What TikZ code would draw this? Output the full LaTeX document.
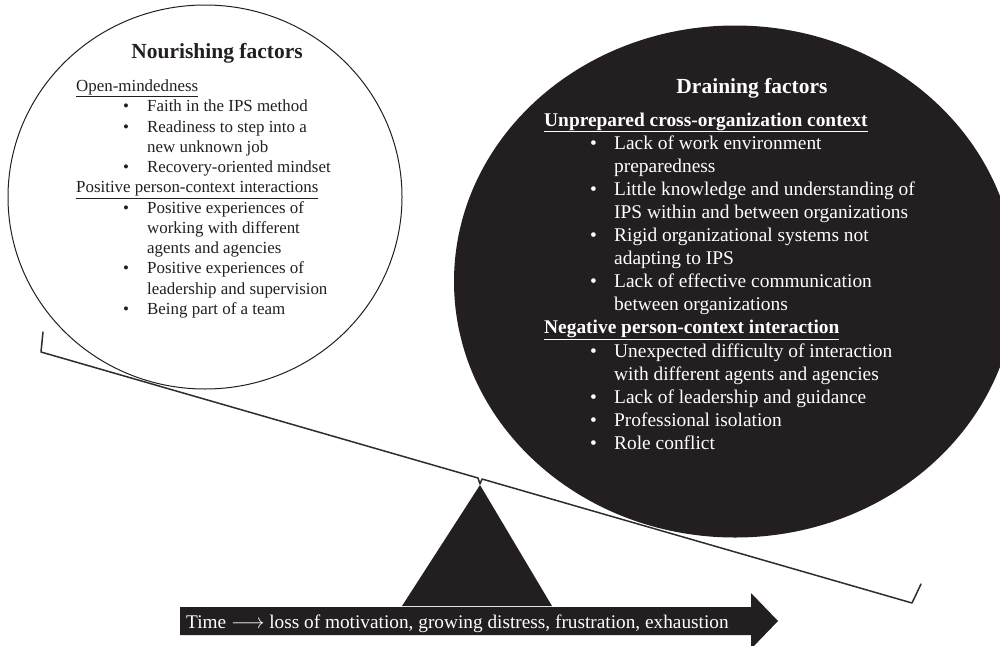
\documentclass[tikz,border=0pt]{standalone}
\usepackage{fontspec}
\setmainfont{Liberation Serif}
\usetikzlibrary{shapes.geometric}
\definecolor{ink}{RGB}{35,31,32}
\definecolor{beamgray}{RGB}{45,45,45}
\begin{document}
\begin{tikzpicture}[x=1pt,y=-1pt,
  lt/.style={anchor=base west, inner sep=0pt, text=ink, font=\fontsize{16.9}{20}\selectfont},
  rt/.style={anchor=base west, inner sep=0pt, text=white, font=\fontsize{19.4}{23}\selectfont},
  ttl/.style={anchor=base, inner sep=0pt, font=\fontsize{21.5}{25}\selectfont\bfseries},
  beamline/.style={draw=beamgray, line width=1.5pt, line join=round, line cap=round}]
\useasboundingbox (0,0) rectangle (1000,645);
\clip (0,0) rectangle (1000,645);
\fill[white] (0,0) rectangle (1000,645);

% circles
\node[ellipse, inner sep=0pt, fill=ink, minimum width=562pt, minimum height=512pt] (drain) at (735,281.5) {};
\node[ellipse, inner sep=0pt, draw=ink, line width=1pt, fill=white, minimum width=394pt, minimum height=384pt] (nour) at (205,197) {};

% left text
\node[ttl, text=ink] (nourtitle) at (217,58) {Nourishing factors};
\node[lt] (lh0) at (76,91.5) {\underline{Open-mindedness}};
\node[lt] (lh5) at (76,192.75) {\underline{Positive person-context interactions}};
\foreach \k/\t in {1/Faith in the IPS method, 2/Readiness to step into a, 4/Recovery-oriented mindset, 6/Positive experiences of, 9/Positive experiences of, 11/Being part of a team}{
  \pgfmathsetmacro\yy{91.5+20.25*\k}
  \node[lt] (lb\k) at (123,\yy) {•};
  \node[lt] (lt\k) at (147,\yy) {\t};
}
\foreach \k/\t in {3/new unknown job, 7/working with different, 8/agents and agencies, 10/leadership and supervision}{
  \pgfmathsetmacro\yy{91.5+20.25*\k}
  \node[lt] (lt\k) at (147,\yy) {\t};
}

% right text
\node[ttl, text=white] (draintitle) at (752,93) {Draining factors};
\node[rt] (rh0) at (544,126) {\bfseries\underline{Unprepared cross-organization context}};
\node[rt] (rh9) at (544,333.9) {\bfseries\underline{Negative person-context interaction}};
\foreach \k/\t in {1/Lack of work environment, 3/Little knowledge and understanding of, 5/Rigid organizational systems not, 7/Lack of effective communication, 10/Unexpected difficulty of interaction, 12/Lack of leadership and guidance, 13/Professional isolation, 14/Role conflict}{
  \pgfmathsetmacro\yy{126+23.1*\k}
  \node[rt] (rb\k) at (590,\yy) {•};
  \node[rt] (rt\k) at (614,\yy) {\t};
}
\foreach \k/\t in {2/preparedness, 4/IPS within and between organizations, 6/adapting to IPS, 8/between organizations, 11/with different agents and agencies}{
  \pgfmathsetmacro\yy{126+23.1*\k}
  \node[rt] (rt\k) at (614,\yy) {\t};
}

% seesaw beam
\coordinate (lhook) at (43,332);
\coordinate (lend) at (41,352);
\coordinate (pl) at (478,478);
\coordinate (pv) at (480,484);
\coordinate (pr) at (482,479);
\coordinate (rend) at (912,603);
\coordinate (rhook) at (921,584);
\draw[beamline] (lhook) -- (lend) -- (pl) -- (pv) -- (pr) -- (rend) -- (rhook);

% fulcrum
\fill[ink] (480,485) -- (552,606) -- (402,606) -- cycle;

% time arrow
\fill[ink] (180,607) -- (751,607) -- (751,593) -- (778,621) -- (751,649) -- (751,635) -- (180,635) -- cycle;
\node[anchor=base west, inner sep=0pt, text=white, font=\fontsize{19.3}{22}\selectfont] (timetxt) at (186,628) {Time $\longrightarrow$ loss of motivation, growing distress, frustration, exhaustion};
\end{tikzpicture}
\end{document}
